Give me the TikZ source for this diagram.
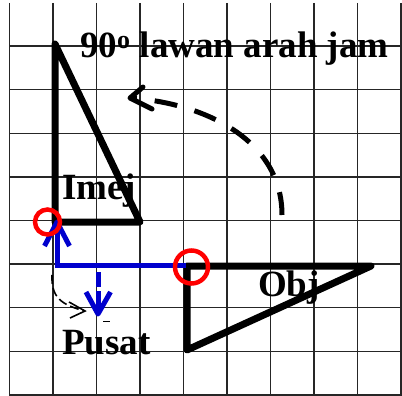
\documentclass[tikz,border=0pt]{standalone}
\usepackage{fontspec}
\setmainfont{Liberation Serif}
\usetikzlibrary{calc}
\definecolor{ringred}{RGB}{255,0,0}
\definecolor{arrblue}{RGB}{0,0,205}
\tikzset{
  gridline/.style={line width=1.4pt, black!85},
  tri/.style={line width=7pt, black, line join=round},
  ring/.style={draw=ringred, line width=4.5pt},
  bluepath/.style={draw=arrblue, line width=5pt},
  bighead/.style={line width=5pt, black, line join=round, line cap=round},
  bigcurve/.style={line width=5pt, black, dash pattern=on 23pt off 18pt},
  smallcurve/.style={line width=1.6pt, black, dash pattern=on 9pt off 4pt},
  lbl/.style={font=\fontsize{37}{41}\selectfont\bfseries, anchor=base west, inner sep=0pt}
}
\begin{document}
\begin{tikzpicture}[x=1pt,y=-1pt]
\useasboundingbox (0,0) rectangle (402,396);
% grid
\foreach \i in {0,...,9} {
  \draw[gridline] ({9.5+43.5*\i},3) -- ({9.5+43.5*\i},396);
}
\foreach \j in {1,...,9} {
  \draw[gridline] (9.5,{2.5+43.6*\j}) -- (401,{2.5+43.6*\j});
}
% image triangle
\coordinate (iA) at (55,44);
\coordinate (iB) at (55,222);
\coordinate (iC) at (140,222);
\draw[tri] (iA) -- (iB) -- (iC) -- cycle;
% object triangle
\coordinate (oA) at (187,266);
\coordinate (oB) at (371,266);
\coordinate (oC) at (187,350);
\draw[tri] (oA) -- (oB) -- (oC) -- cycle;
% labels
\node[lbl] (title) at (80,58) {90\textsuperscript{o} lawan arah jam};
\node[lbl] (imej) at (62,199) {Imej};
\node[lbl] (obj) at (258,296) {Obj};
\node[lbl] (pusat) at (62,354) {Pusat};
% big dashed rotation arrow
\coordinate (bS) at (282,215);
\coordinate (bT) at (130,98);
\draw[bigcurve] (bS) .. controls (282,140) and (205,103) .. (bT);
\coordinate (bW1) at (143,87);
\coordinate (bW2) at (152,109);
\draw[bighead] (bW1) -- (bT) -- (bW2);
% blue path from object vertex to centre and to image vertex
\coordinate (vObj) at (186,265);
\coordinate (vCor) at (60,265);
\draw[bluepath] (vObj) -- (vCor);
\coordinate (uS) at (57,268);
\coordinate (uT) at (57,222);
\draw[bluepath] (uS) -- ($(uT)+(0,2)$);
\draw[bluepath, line join=round] (44.5,246) -- (uT) -- (69.5,246);
% blue dashed down arrow
\coordinate (dS) at (98,272);
\coordinate (dT) at (98,314);
\draw[bluepath] (dS) -- (98,287);
\draw[bluepath] (98,291) -- ($(dT)+(0,-2)$);
\draw[bluepath, line join=round] (86,292) -- (dT) -- (110.5,292);
% small dashed curved arrow
\coordinate (sS) at (52,275);
\coordinate (sT) at (85,311);
\draw[smallcurve] (sS) .. controls (51,298) and (62,305) .. (sT);
\draw[line width=1.6pt, black] (69,302) -- (sT) -- (70,318);
\draw[line width=1pt, black] (103,321) -- (110,321);
% red rings
\node[ring, circle, minimum size=25pt, inner sep=0pt] (ring1) at (47.5,222) {};
\node[ring, circle, minimum size=33pt, inner sep=0pt] (ring2) at (191.5,267) {};
\end{tikzpicture}
\end{document}
